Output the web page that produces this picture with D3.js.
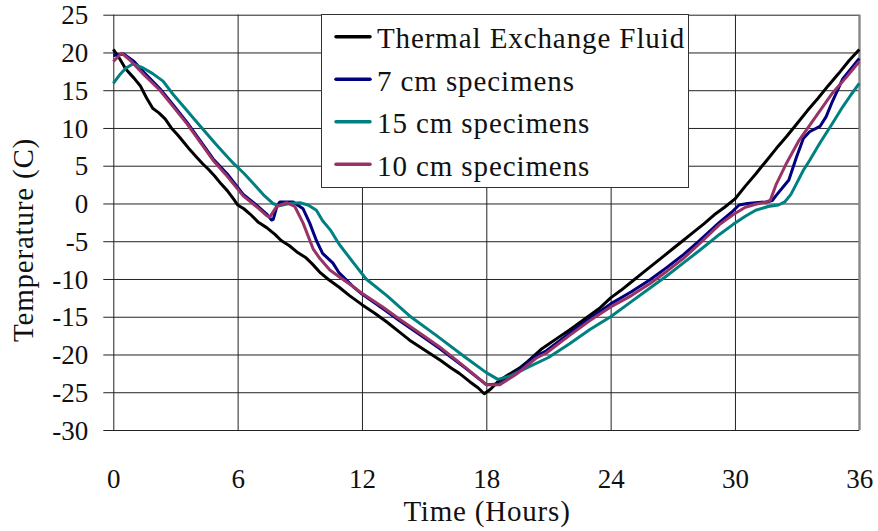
<!DOCTYPE html>
<html>
<head>
<meta charset="utf-8">
<script src="https://cdn.jsdelivr.net/npm/d3@7"></script>
<style>
  body { margin: 0; background: #fff; }
  svg { display: block; font-family: "Liberation Serif", "Times New Roman", serif; }
  .tick-label { font-size: 27px; fill: #111; }
  .axis-title { font-size: 29px; letter-spacing: 0.8px; fill: #111; }
  .legend-text { font-size: 29px; letter-spacing: 0.9px; fill: #111; }
</style>
</head>
<body>
<svg id="chart"></svg>
<script>
// temperature traces (hours, degrees C)

const fluidHours = [0, 0.3, 0.6, 1.0, 1.3, 1.6, 1.9, 2.2, 2.5, 2.8, 3.1, 3.4, 3.7, 4.0, 4.3, 4.6, 4.9, 5.2, 5.5, 5.8, 6.0, 6.3, 6.6, 7.0, 7.4, 7.8, 8.1, 8.5, 8.9, 9.3, 9.6, 10.0, 10.4, 10.9, 11.4, 12.0, 12.6, 13.2, 13.8, 14.3, 14.8, 15.3, 15.8, 16.3, 16.7, 17.2, 17.6, 17.9, 18.2, 18.6, 19.0, 19.6, 20.0, 20.7, 21.5, 22.0, 22.5, 23.0, 23.5, 24.0, 24.5, 25.0, 25.5, 26.0, 26.5, 27.0, 27.5, 28.0, 28.5, 29.0, 29.5, 30.0, 30.5, 31.0, 31.5, 32.0, 32.5, 33.0, 33.5, 34.0, 34.5, 35.0, 35.5, 36.0];
const fluidTemp = [20.4, 19.2, 17.8, 16.6, 15.6, 14.0, 12.6, 12.0, 11.2, 10.0, 9.1, 8.1, 7.1, 6.2, 5.3, 4.5, 3.6, 2.6, 1.7, 0.6, -0.2, -0.7, -1.4, -2.5, -3.2, -4.1, -4.9, -5.6, -6.5, -7.2, -8.0, -9.2, -10.1, -11.1, -12.2, -13.4, -14.5, -15.7, -17.0, -18.1, -19.0, -19.9, -20.8, -21.8, -22.5, -23.6, -24.4, -25.2, -24.6, -23.5, -22.8, -21.8, -20.9, -19.2, -17.7, -16.8, -15.8, -14.8, -13.8, -12.5, -11.5, -10.4, -9.3, -8.2, -7.1, -6.0, -4.9, -3.8, -2.7, -1.5, -0.5, 0.6, 2.3, 3.9, 5.6, 7.3, 8.9, 10.6, 12.3, 13.9, 15.6, 17.2, 18.9, 20.4];

const cm7Hours = [0, 0.5, 1.0, 1.5, 2.25, 2.9, 3.54, 4.2, 4.82, 5.5, 6.27, 6.9, 7.4, 7.64, 7.72, 7.9, 8.04, 8.68, 9.16, 9.48, 9.8, 10.1, 10.6, 10.9, 11.57, 12.0, 13.0, 13.8, 14.8, 15.75, 16.9, 18.0, 18.65, 19.5, 20.4, 20.9, 22.0, 23.0, 24.0, 25.0, 25.9, 26.7, 27.5, 28.3, 29.25, 29.9, 30.2, 30.6, 31.5, 31.8, 32.0, 32.6, 32.95, 33.3, 33.6, 34.1, 34.4, 34.7, 35.2, 36.0];
const cm7Temp = [19.6, 19.8, 18.8, 17.3, 15.2, 13.0, 10.8, 8.3, 5.9, 3.9, 1.2, -0.2, -1.4, -2.2, -2.1, -0.3, 0.2, 0.2, -0.7, -2.6, -4.9, -6.6, -7.9, -9.2, -11.0, -12.0, -13.9, -15.5, -17.4, -19.2, -21.6, -24.0, -23.9, -22.2, -20.2, -19.5, -17.2, -15.2, -13.3, -11.7, -10.1, -8.5, -6.8, -4.9, -2.5, -1.0, -0.2, 0.0, 0.2, 0.4, 1.1, 3.1, 6.0, 8.6, 9.5, 10.2, 11.5, 13.5, 16.5, 19.2];

const cm15Hours = [0, 0.3, 0.6, 0.96, 1.4, 1.9, 2.4, 2.9, 3.4, 3.9, 4.4, 4.9, 5.4, 5.8, 6.3, 6.8, 7.3, 7.7, 8.0, 8.5, 9.0, 9.4, 9.8, 10.1, 10.5, 10.9, 11.6, 12.2, 13.2, 14.3, 15.6, 17.0, 18.0, 18.56, 19.2, 20.0, 21.0, 22.0, 23.0, 24.0, 25.0, 26.0, 26.7, 27.5, 28.3, 29.25, 29.9, 30.5, 31.0, 31.6, 32.1, 32.4, 32.7, 33.0, 33.3, 33.6, 34.1, 34.7, 35.2, 35.6, 36.0];
const cm15Temp = [15.9, 17.0, 17.9, 18.5, 18.0, 17.2, 16.2, 14.4, 12.8, 11.2, 9.6, 8.0, 6.5, 5.3, 4.0, 2.5, 1.0, 0.0, -0.3, 0.0, 0.1, -0.2, -0.9, -2.3, -3.6, -5.4, -7.9, -10.0, -12.2, -14.9, -17.5, -20.4, -22.4, -23.3, -22.8, -21.7, -20.4, -18.6, -16.7, -15.0, -13.0, -11.0, -9.6, -7.9, -6.2, -4.1, -2.8, -1.7, -0.9, -0.4, -0.2, 0.2, 1.2, 2.8, 4.4, 5.7, 8.0, 10.6, 12.8, 14.4, 15.9];

const cm10Hours = [0, 0.4, 0.8, 1.5, 2.25, 2.9, 3.54, 4.2, 4.82, 5.5, 6.27, 6.9, 7.4, 7.55, 7.88, 8.36, 8.76, 9.16, 9.64, 9.97, 10.45, 10.9, 11.57, 12.0, 13.0, 13.8, 14.8, 15.75, 16.9, 18.0, 18.65, 19.5, 20.4, 20.9, 22.0, 23.0, 24.0, 25.0, 25.9, 26.7, 27.5, 28.3, 29.25, 29.9, 30.5, 31.0, 31.5, 31.7, 32.0, 32.5, 33.1, 33.9, 34.7, 35.4, 36.0];
const cm10Temp = [18.8, 19.9, 19.0, 17.0, 15.0, 12.8, 10.6, 8.1, 5.7, 3.6, 1.0, -0.4, -1.6, -1.8, -0.4, 0.1, -0.4, -2.6, -6.0, -7.3, -8.8, -9.7, -11.0, -11.9, -13.7, -15.3, -17.2, -19.0, -21.5, -24.0, -24.0, -22.5, -20.5, -19.8, -17.5, -15.5, -13.7, -12.2, -10.6, -9.0, -7.3, -5.3, -2.8, -1.5, -0.5, -0.1, 0.2, 0.4, 2.6, 5.4, 8.4, 11.5, 14.6, 16.8, 18.8];

const seriesNames = ["Thermal Exchange Fluid", "7 cm specimens", "15 cm specimens", "10 cm specimens"];
const seriesColors = ["#000000", "#000080", "#008080", "#993366"];
const xTicks = [0, 6, 12, 18, 24, 30, 36];
const yTicks = [25, 20, 15, 10, 5, 0, -5, -10, -15, -20, -25, -30];

const seriesData = [
  d3.zip(fluidHours, fluidTemp),
  d3.zip(cm7Hours, cm7Temp),
  d3.zip(cm15Hours, cm15Temp),
  d3.zip(cm10Hours, cm10Temp)
];

// chart container specs
const width = 878;
const height = 531;
const margin = { top: 14.7, right: 18.7, bottom: 101, left: 113.3 };
const innerW = width - margin.left - margin.right;
const innerH = height - margin.top - margin.bottom;

const svg = d3.select("#chart")
  .attr("width", width)
  .attr("height", height);

const g = svg.append("g")
  .attr("transform", `translate(${margin.left},${margin.top})`);

const x = d3.scaleLinear().domain([0, 36]).range([0, innerW]);
const y = d3.scaleLinear().domain([-30, 25]).range([innerH, 0]);

// plain hyphen minus, like the original
const fmt = d => String(d);

// horizontal gridlines, with the little outside ticks on the left
const yAxis = g.append("g")
  .attr("font-family", null)
  .attr("font-size", null)
  .call(d3.axisLeft(y).tickValues(yTicks).tickFormat(fmt).tickSize(-innerW).tickSizeOuter(0).tickPadding(25));
yAxis.attr("font-family", null).attr("font-size", null);
yAxis.select(".domain").remove();
yAxis.selectAll(".tick line")
  .attr("x1", -10)
  .attr("stroke", "#222")
  .attr("stroke-width", 1);
yAxis.selectAll(".tick text")
  .attr("class", "tick-label")
  .attr("dy", "0.34em")
  .attr("fill", "#111");

// vertical gridlines, no outside ticks
const xAxis = g.append("g")
  .attr("transform", `translate(0,${innerH})`)
  .call(d3.axisBottom(x).tickValues(xTicks).tickFormat(fmt).tickSize(-innerH).tickSizeOuter(0).tickPadding(39));
xAxis.attr("font-family", null).attr("font-size", null);
xAxis.select(".domain").remove();
xAxis.selectAll(".tick line")
  .attr("stroke", "#222")
  .attr("stroke-width", 1);
xAxis.selectAll(".tick text")
  .attr("class", "tick-label")
  .attr("fill", "#111");

// right edge a bit grayer
g.append("line")
  .attr("x1", x(36)).attr("x2", x(36))
  .attr("y1", 0).attr("y2", innerH)
  .attr("stroke", "#888")
  .attr("stroke-width", 2);

// traces
const line = d3.line()
  .x(d => x(d[0]))
  .y(d => y(d[1]));

g.selectAll(".trace")
  .data(seriesData)
  .enter()
  .append("path")
  .attr("class", "trace")
  .attr("d", line)
  .attr("fill", "none")
  .attr("stroke", (d, i) => seriesColors[i])
  .attr("stroke-width", 3)
  .attr("stroke-linejoin", "round");

// axis titles
svg.append("text")
  .attr("class", "axis-title")
  .attr("text-anchor", "middle")
  .attr("x", 487)
  .attr("y", 521)
  .text("Time (Hours)");

svg.append("text")
  .attr("class", "axis-title")
  .attr("text-anchor", "middle")
  .attr("transform", "translate(33, 240) rotate(-90)")
  .text("Temperature (C)");

// legend
const legend = svg.append("g");
legend.append("rect")
  .attr("x", 321.5)
  .attr("y", 14.5)
  .attr("width", 367)
  .attr("height", 173)
  .attr("fill", "#fff")
  .attr("stroke", "#333")
  .attr("stroke-width", 1);

const rows = legend.selectAll(".row")
  .data(seriesNames)
  .enter()
  .append("g")
  .attr("transform", (d, i) => `translate(336,${36.7 + i * 42.5})`);

rows.append("line")
  .attr("x1", 0).attr("x2", 34)
  .attr("stroke", (d, i) => seriesColors[i])
  .attr("stroke-width", 3.5)
  .attr("stroke-linecap", "round");

rows.append("text")
  .attr("class", "legend-text")
  .attr("x", 41)
  .attr("y", 11.5)
  .text(d => d);
</script>
</body>
</html>
